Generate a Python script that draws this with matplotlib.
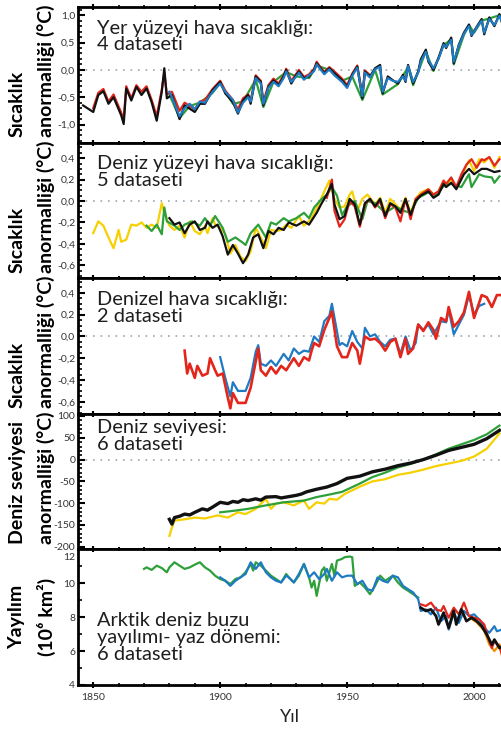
import matplotlib
matplotlib.use("Agg")
import matplotlib.pyplot as plt
from matplotlib.ticker import MultipleLocator
from matplotlib.transforms import ScaledTranslation

plt.rcParams['font.family'] = ['Lato', 'DejaVu Sans']

# --- Panel 1: Yer yüzeyi hava sıcaklığı (4 dataset)
p1_black_yil = [1846, 1850, 1852, 1854, 1856, 1858, 1861, 1862, 1863, 1865, 1867, 1869, 1871, 1873, 1875, 1877,
                1878, 1879, 1881, 1884, 1886, 1890, 1892, 1894, 1897, 1900, 1902, 1905, 1907, 1909, 1911, 1912,
                1914, 1916, 1917, 1919, 1921, 1923, 1925, 1926, 1928, 1930, 1931, 1933, 1935, 1937, 1938, 1939,
                1941, 1943, 1945, 1948, 1950, 1952, 1954, 1956, 1957, 1959, 1961, 1963, 1964, 1966, 1968, 1970,
                1972, 1973, 1974, 1976, 1978, 1979, 1981, 1982, 1984, 1986, 1988, 1989, 1991, 1992, 1994, 1996,
                1998, 1999, 2000, 2002, 2003, 2004, 2006, 2008, 2010, 2011]
p1_black = [-0.65, -0.77, -0.46, -0.39, -0.62, -0.50, -0.83, -0.99, -0.34, -0.56, -0.31, -0.46, -0.34, -0.59, -0.93, -0.40,
            0.03, -0.52, -0.46, -0.90, -0.65, -0.77, -0.62, -0.62, -0.37, -0.22, -0.43, -0.59, -0.80, -0.56, -0.46, -0.62,
            -0.12, -0.22, -0.65, -0.31, -0.19, -0.28, -0.12, 0.00, -0.25, -0.09, -0.03, -0.15, -0.12, 0.00, 0.12, 0.06,
            -0.06, 0.03, -0.06, -0.19, -0.31, -0.09, 0.06, -0.52, -0.03, -0.12, 0.03, 0.09, -0.43, -0.12, -0.19, -0.25,
            -0.09, -0.22, 0.09, -0.25, -0.03, 0.19, 0.37, 0.15, 0.00, 0.22, 0.49, 0.40, 0.59, 0.12, 0.46, 0.68,
            0.83, 0.62, 0.71, 0.86, 0.93, 0.65, 0.96, 0.80, 1.02, 0.86]
p1_red_yil = [1850, 1852, 1854, 1856, 1858, 1861, 1862, 1863, 1865, 1867, 1869, 1871, 1873, 1875, 1877, 1878,
              1879, 1881, 1884, 1886, 1890, 1892, 1894, 1897, 1900, 1902, 1905, 1907, 1909, 1911, 1912, 1914,
              1916, 1917, 1919, 1921, 1923, 1925, 1926, 1928, 1930, 1931, 1933, 1935, 1937, 1938, 1939, 1941,
              1943, 1945, 1948, 1950, 1952, 1954, 1956, 1957, 1959]
p1_red = [-0.70, -0.42, -0.35, -0.58, -0.45, -0.78, -0.90, -0.30, -0.52, -0.28, -0.40, -0.30, -0.55, -0.85, -0.36, -0.05,
          -0.45, -0.40, -0.75, -0.60, -0.72, -0.58, -0.55, -0.35, -0.20, -0.38, -0.55, -0.72, -0.52, -0.45, -0.56, -0.10,
          -0.20, -0.58, -0.28, -0.16, -0.25, -0.10, 0.02, -0.20, -0.07, 0.00, -0.13, -0.08, 0.02, 0.15, 0.08, -0.04,
          0.05, -0.03, -0.16, -0.28, -0.07, 0.08, -0.45, -0.01, -0.10]
p1_green_yil = [1880, 1884, 1888, 1892, 1897, 1900, 1905, 1909, 1914, 1917, 1921, 1926, 1930, 1935, 1938, 1943,
                1948, 1952, 1956, 1961, 1964, 1970, 1974, 1976, 1981, 1984, 1988, 1991, 1992, 1996, 1998, 2000,
                2003, 2006, 2010]
p1_green = [-0.45, -0.88, -0.66, -0.60, -0.42, -0.24, -0.62, -0.58, -0.18, -0.68, -0.22, -0.04, -0.12, -0.15, 0.08, 0.00,
            -0.20, -0.12, -0.55, 0.00, -0.45, -0.26, 0.05, -0.28, 0.34, -0.02, 0.45, 0.56, 0.10, 0.64, 0.82, 0.68,
            0.90, 0.94, 1.00]
p1_blue_yil = [1880, 1881, 1884, 1886, 1888, 1890, 1892, 1894, 1897, 1900, 1902, 1905, 1907, 1909, 1911, 1912,
               1914, 1916, 1917, 1919, 1921, 1923, 1925, 1926, 1928, 1930, 1931, 1933, 1935, 1937, 1938, 1939,
               1941, 1943, 1945, 1948, 1950, 1952, 1954, 1956, 1957, 1959, 1961, 1963, 1964, 1966, 1968, 1970,
               1972, 1973, 1974, 1976, 1978, 1979, 1981, 1982, 1984, 1986, 1988, 1989, 1991, 1992, 1994, 1996,
               1998, 1999, 2000, 2002, 2003, 2004, 2006, 2008, 2010, 2011]
p1_blue = [-0.40, -0.50, -0.85, -0.70, -0.62, -0.72, -0.58, -0.60, -0.40, -0.25, -0.40, -0.55, -0.78, -0.60, -0.50, -0.58,
           -0.15, -0.25, -0.62, -0.33, -0.22, -0.30, -0.15, -0.03, -0.22, -0.12, -0.05, -0.18, -0.10, -0.02, 0.10, 0.04,
           -0.08, 0.01, -0.10, -0.22, -0.33, -0.11, 0.04, -0.48, -0.05, -0.14, 0.01, 0.06, -0.40, -0.15, -0.20, -0.22,
           -0.12, -0.20, 0.07, -0.22, -0.05, 0.15, 0.33, 0.18, 0.03, 0.20, 0.46, 0.42, 0.55, 0.15, 0.44, 0.66,
           0.80, 0.64, 0.70, 0.84, 0.90, 0.68, 0.93, 0.82, 0.99, 0.88]

# --- Panel 2: Deniz yüzeyi hava sıcaklığı (5 dataset)
p2_yellow_yil = [1850, 1852, 1854, 1856, 1858, 1860, 1861, 1863, 1865, 1867, 1869, 1871, 1873, 1875, 1877, 1878,
                 1880, 1882, 1884, 1886, 1888, 1890, 1892, 1894, 1895, 1897, 1898, 1900, 1902, 1904, 1906, 1908,
                 1910, 1912, 1914, 1916, 1918, 1920, 1922, 1924, 1926, 1928, 1931, 1933, 1936, 1939, 1941, 1943,
                 1945, 1947, 1949, 1951, 1952, 1954, 1956, 1958, 1961, 1963, 1965, 1967, 1969, 1971, 1973, 1975,
                 1977, 1979, 1982, 1984, 1986, 1988, 1989, 1991, 1993, 1995, 1997, 1998, 2000, 2002, 2004, 2006,
                 2008, 2010]
p2_yellow = [-0.30, -0.19, -0.23, -0.34, -0.44, -0.27, -0.38, -0.36, -0.22, -0.23, -0.20, -0.25, -0.22, -0.25, -0.02, -0.11,
             -0.23, -0.27, -0.23, -0.34, -0.19, -0.28, -0.31, -0.23, -0.30, -0.16, -0.22, -0.25, -0.31, -0.49, -0.41, -0.52,
             -0.56, -0.47, -0.25, -0.34, -0.44, -0.27, -0.28, -0.27, -0.22, -0.25, -0.14, -0.23, -0.16, -0.02, 0.09, 0.19,
             0.02, -0.06, -0.05, 0.06, 0.09, -0.09, 0.02, 0.06, -0.03, 0.03, -0.11, 0.02, -0.03, -0.08, 0.03, -0.11,
             0.02, 0.08, 0.11, 0.06, 0.09, 0.19, 0.14, 0.20, 0.13, 0.22, 0.33, 0.38, 0.28, 0.39, 0.36, 0.41,
             0.31, 0.41]
p2_green_yil = [1871, 1873, 1875, 1877, 1878, 1879, 1882, 1884, 1886, 1889, 1892, 1894, 1896, 1898, 1901, 1903,
                1906, 1909, 1910, 1912, 1915, 1918, 1920, 1922, 1925, 1927, 1930, 1933, 1935, 1937, 1940, 1942,
                1944, 1946, 1948, 1950, 1953, 1956, 1958, 1961, 1965, 1969, 1972, 1975, 1978, 1982, 1985, 1988,
                1991, 1995, 1998, 1999, 2002, 2004, 2007, 2008, 2010]
p2_green = [-0.23, -0.28, -0.22, -0.31, -0.06, -0.19, -0.23, -0.27, -0.22, -0.19, -0.23, -0.16, -0.23, -0.14, -0.25, -0.38,
            -0.34, -0.39, -0.41, -0.30, -0.22, -0.34, -0.20, -0.22, -0.16, -0.19, -0.16, -0.11, -0.16, -0.06, 0.02, 0.06,
            0.13, 0.05, -0.13, -0.05, 0.00, -0.17, 0.00, -0.02, -0.11, -0.05, -0.09, -0.11, 0.03, 0.08, 0.05, 0.14,
            0.16, 0.13, 0.25, 0.13, 0.25, 0.23, 0.22, 0.17, 0.23]
p2_black_yil = [1880, 1882, 1884, 1886, 1888, 1890, 1892, 1894, 1895, 1897, 1899, 1901, 1903, 1905, 1907, 1909,
                1911, 1913, 1915, 1917, 1919, 1921, 1923, 1925, 1927, 1930, 1933, 1935, 1938, 1940, 1942, 1944,
                1945, 1947, 1949, 1951, 1953, 1955, 1957, 1959, 1961, 1963, 1965, 1967, 1969, 1971, 1973, 1975,
                1977, 1979, 1982, 1984, 1986, 1988, 1989, 1991, 1993, 1996, 1998, 2000, 2003, 2005, 2008, 2010]
p2_black = [-0.16, -0.22, -0.20, -0.30, -0.22, -0.19, -0.27, -0.25, -0.19, -0.25, -0.22, -0.33, -0.50, -0.41, -0.49, -0.58,
            -0.50, -0.34, -0.31, -0.44, -0.28, -0.31, -0.25, -0.27, -0.20, -0.23, -0.19, -0.22, -0.11, -0.02, 0.06, 0.16,
            -0.03, -0.17, -0.14, 0.02, -0.03, -0.22, -0.02, 0.02, -0.05, 0.02, -0.14, -0.02, -0.05, -0.11, 0.02, -0.13,
            0.00, 0.05, 0.09, 0.03, 0.06, 0.16, 0.13, 0.17, 0.11, 0.25, 0.30, 0.25, 0.30, 0.30, 0.27, 0.28]
p2_red_yil = [1942, 1944, 1945, 1947, 1949, 1951, 1953, 1955, 1957, 1959, 1961, 1963, 1965, 1967, 1969, 1971,
              1973, 1975, 1977, 1979, 1982, 1984, 1986, 1988, 1989, 1991, 1993, 1995, 1997, 1999, 2001, 2003,
              2004, 2006, 2008, 2010]
p2_red = [0.03, 0.20, -0.09, -0.24, -0.17, 0.00, -0.05, -0.24, -0.03, 0.02, -0.06, 0.00, -0.16, -0.03, -0.06, -0.19,
          0.02, -0.17, 0.02, 0.06, 0.11, 0.06, 0.09, 0.19, 0.16, 0.22, 0.13, 0.25, 0.34, 0.39, 0.31, 0.39,
          0.38, 0.41, 0.33, 0.39]

# --- Panel 3: Denizel hava sıcaklığı (2 dataset)
p3_red_yil = [1886, 1887, 1888, 1890, 1891, 1893, 1895, 1896, 1898, 1899, 1901, 1903, 1904, 1905, 1907, 1910,
              1912, 1914, 1915, 1916, 1918, 1920, 1922, 1924, 1926, 1929, 1931, 1933, 1935, 1936, 1937, 1939,
              1941, 1943, 1944, 1946, 1948, 1950, 1952, 1954, 1955, 1957, 1959, 1961, 1963, 1965, 1967, 1969,
              1971, 1973, 1974, 1976, 1978, 1980, 1982, 1984, 1985, 1987, 1989, 1990, 1992, 1994, 1996, 1998,
              2000, 2002, 2003, 2005, 2007, 2009, 2011]
p3_red = [-0.13, -0.34, -0.25, -0.38, -0.27, -0.36, -0.34, -0.20, -0.31, -0.36, -0.34, -0.56, -0.66, -0.52, -0.61, -0.61,
          -0.47, -0.23, -0.11, -0.31, -0.36, -0.28, -0.34, -0.27, -0.31, -0.20, -0.27, -0.19, -0.22, -0.13, -0.06, -0.09,
          0.06, 0.17, 0.23, -0.09, -0.19, -0.19, -0.06, -0.13, -0.25, 0.00, -0.03, -0.02, -0.06, -0.13, -0.05, -0.02,
          -0.19, -0.02, -0.16, -0.11, 0.11, 0.05, 0.13, 0.06, -0.02, 0.17, 0.14, 0.27, 0.09, 0.14, 0.22, 0.41,
          0.17, 0.31, 0.38, 0.36, 0.27, 0.38, 0.38]
p3_blue_yil = [1900, 1902, 1904, 1905, 1907, 1910, 1912, 1914, 1915, 1916, 1918, 1920, 1922, 1925, 1927, 1929,
               1931, 1933, 1935, 1937, 1939, 1941, 1943, 1944, 1947, 1948, 1950, 1952, 1954, 1956, 1957, 1959,
               1961, 1963, 1965, 1967, 1969, 1971, 1973, 1975, 1977, 1978, 1980, 1982, 1984, 1987, 1989, 1990,
               1992, 1994, 1996, 1998, 2000, 2002, 2004]
p3_blue = [-0.19, -0.38, -0.55, -0.42, -0.50, -0.50, -0.38, -0.14, -0.08, -0.25, -0.27, -0.22, -0.27, -0.16, -0.22, -0.11,
           -0.16, -0.13, -0.14, 0.00, -0.05, 0.14, 0.19, 0.30, -0.08, -0.06, -0.09, 0.05, -0.05, -0.11, 0.08, 0.00,
           0.02, -0.05, -0.09, -0.03, -0.02, -0.16, 0.00, -0.13, -0.06, 0.11, 0.06, 0.11, 0.02, 0.14, 0.13, 0.25,
           0.02, 0.11, 0.20, 0.38, 0.20, 0.28, 0.30]

# --- Panel 4: Deniz seviyesi (mm)
p4_yellow_yil = [1880, 1881, 1882, 1886, 1890, 1894, 1899, 1903, 1907, 1910, 1914, 1918, 1920, 1922, 1925, 1929,
                 1933, 1935, 1938, 1941, 1943, 1946, 1949, 1955, 1960, 1965, 1970, 1975, 1980, 1985, 1990, 1995,
                 2000, 2005, 2010]
p4_yellow = [-175, -156, -140, -137, -133, -135, -128, -133, -121, -125, -113, -90, -113, -101, -98, -105,
             -94, -113, -98, -101, -90, -92, -79, -62, -50, -45, -35, -30, -23, -15, -9, -3,
             7, 25, 60]
p4_green_yil = [1900, 1906, 1911, 1918, 1925, 1933, 1938, 1944, 1948, 1955, 1960, 1965, 1970, 1975, 1980, 1985,
                1990, 1995, 2000, 2005, 2010]
p4_green = [-121, -117, -113, -105, -98, -94, -86, -79, -74, -55, -40, -30, -18, -10, 0, 12,
            25, 35, 45, 58, 78]
p4_black_yil = [1880, 1881, 1882, 1884, 1886, 1888, 1890, 1893, 1895, 1897, 1900, 1903, 1905, 1907, 1909, 1911,
                1914, 1916, 1918, 1922, 1924, 1926, 1930, 1932, 1934, 1938, 1942, 1946, 1950, 1955, 1960, 1965,
                1970, 1975, 1980, 1985, 1990, 1995, 2000, 2005, 2010]
p4_black = [-137, -148, -133, -130, -125, -127, -121, -113, -116, -109, -98, -101, -96, -98, -92, -94,
            -90, -93, -86, -85, -88, -86, -82, -79, -74, -68, -63, -55, -43, -38, -28, -22,
            -14, -8, 0, 10, 21, 28, 35, 48, 67]

# --- Panel 5: Arktik deniz buzu yayılımı, yaz (10^6 km2)
p5_green_yil = [1870, 1871, 1873, 1875, 1877, 1879, 1880, 1882, 1884, 1886, 1888, 1890, 1892, 1894, 1896, 1898,
                1900, 1902, 1904, 1906, 1908, 1910, 1912, 1913, 1914, 1916, 1918, 1920, 1922, 1924, 1926, 1927,
                1929, 1931, 1933, 1935, 1936, 1937, 1938, 1940, 1941, 1942, 1944, 1945, 1946, 1948, 1949, 1951,
                1952, 1953, 1955, 1957, 1959, 1961, 1963, 1965, 1967, 1968, 1970, 1972, 1974, 1976, 1978]
p5_green = [10.85, 10.94, 10.79, 11.04, 10.90, 10.65, 10.94, 11.24, 11.04, 10.85, 10.94, 11.10, 11.24, 10.94, 10.75, 10.45,
            10.25, 10.15, 9.95, 10.25, 10.35, 10.65, 11.14, 10.75, 11.24, 11.04, 10.75, 10.45, 10.25, 10.05, 10.55, 10.35,
            10.05, 10.45, 11.14, 10.35, 9.75, 10.15, 9.26, 10.75, 10.94, 10.15, 11.14, 10.45, 11.34, 11.44, 11.54, 11.58,
            11.54, 9.85, 10.05, 9.75, 9.36, 9.85, 10.45, 10.15, 10.35, 10.45, 10.05, 9.75, 9.56, 9.36, 9.16]
p5_blue_yil = [1900, 1902, 1904, 1906, 1908, 1910, 1912, 1914, 1916, 1918, 1920, 1922, 1924, 1926, 1927, 1929,
               1931, 1933, 1935, 1937, 1939, 1941, 1942, 1944, 1946, 1948, 1950, 1952, 1954, 1956, 1958, 1960,
               1962, 1964, 1966, 1968, 1970, 1972, 1974, 1976, 1978, 1979, 1981, 1983, 1985, 1987, 1989, 1990,
               1992, 1994, 1996, 1998, 2000, 2002, 2004, 2006, 2008, 2009, 2011]
p5_blue = [10.35, 10.15, 9.85, 10.15, 10.35, 10.55, 11.24, 10.85, 11.24, 10.65, 10.35, 10.15, 10.05, 10.45, 10.35, 10.05,
           10.55, 11.14, 10.35, 10.65, 10.25, 10.55, 10.85, 10.15, 10.65, 10.35, 10.45, 10.45, 9.95, 10.15, 9.65, 9.56,
           10.35, 10.15, 10.05, 10.45, 10.35, 9.85, 9.65, 9.46, 9.06, 8.37, 8.46, 8.17, 8.56, 7.77, 8.07, 7.27,
           8.27, 7.67, 8.37, 8.07, 8.17, 7.87, 7.37, 7.08, 7.47, 7.17, 7.27]
p5_red_yil = [1979, 1981, 1983, 1985, 1987, 1988, 1990, 1992, 1994, 1996, 1998, 2000, 2002, 2004, 2006, 2007,
              2008, 2010, 2011]
p5_red = [8.76, 8.66, 8.86, 8.46, 8.37, 8.66, 7.97, 8.56, 8.17, 8.86, 8.07, 7.97, 7.87, 7.57, 6.58, 6.18,
          6.58, 6.28, 5.79]
p5_orange_yil = [1999, 2001, 2004, 2006, 2008, 2010, 2011]
p5_orange = [7.9, 7.7, 7.2, 6.4, 6.0, 6.4, 5.7]
p5_black_yil = [1979, 1981, 1983, 1985, 1986, 1988, 1990, 1992, 1993, 1995, 1997, 1999, 2001, 2003, 2005, 2007,
                2008, 2010, 2011]
p5_black = [8.56, 8.37, 8.46, 8.07, 7.57, 8.27, 7.37, 8.37, 7.57, 8.46, 7.77, 7.97, 7.77, 7.47, 6.98, 6.38,
            6.68, 6.18, 6.28]

basliklar = ["Yer yüzeyi hava sıcaklığı:\n4 dataseti",
             "Deniz yüzeyi hava sıcaklığı:\n5 dataseti",
             "Denizel hava sıcaklığı:\n2 dataseti",
             "Deniz seviyesi:\n6 dataseti",
             "Arktik deniz buzu\nyayılımı- yaz dönemi:\n6 dataseti"]
ylabels = ["Sıcaklık\nanormalliği (°C)", "Sıcaklık\nanormalliği (°C)", "Sıcaklık\nanormalliği (°C)",
           "Deniz seviyesi\nanormalliği (°C)", "Yayılım\n(10⁶ km²)"]
yticks = [[1.0, 0.5, 0.0, -0.5, -1.0],
          [0.4, 0.2, 0.0, -0.2, -0.4, -0.6],
          [0.4, 0.2, 0.0, -0.2, -0.4, -0.6],
          [100, 50, 0, -50, -100, -150, -200],
          [12, 10, 8, 6, 4]]
ytick_labels = [["1,0", "0,5", "0,0", "-0,5", "-1,0"],
                ["0,4", "0,2", "0,0", "-0,2", "-0,4", "-0,6"],
                ["0,4", "0,2", "0,0", "-0,2", "-0,4", "-0,6"],
                ["100", "50", "0", "-50", "-100", "-150", "-200"],
                ["12", "10", "8", "6", "4"]]
ylims = [(-1.33, 1.15), (-0.72, 0.545), (-0.71, 0.535), (-206, 105), (4, 12)]
minors = [0.1, 0.05, 0.05, 10, 1]
baslik_y = [0.905, 0.905, 0.905, 0.96, 0.535]

KIRMIZI = '#e3261c'
MAVI = '#1f7ac4'
YESIL = '#2ea03a'
SARI = '#f6d000'
TURUNCU = '#f29100'
SIYAH = '#111111'

fig = plt.figure(figsize=(5.02, 7.31), dpi=100)
gs = fig.add_gridspec(5, 1, left=78/502, right=1.0, top=1-7/731, bottom=1-685/731, hspace=0)
axes = [fig.add_subplot(gs[i]) for i in range(5)]

lw = 1.6
ax = axes[0]
ax.plot(p1_green_yil, p1_green, color=YESIL, lw=lw)
ax.plot(p1_red_yil, p1_red, color=KIRMIZI, lw=lw)
ax.plot(p1_black_yil, p1_black, color=SIYAH, lw=lw)
ax.plot(p1_blue_yil, p1_blue, color=MAVI, lw=lw)

ax = axes[1]
ax.plot(p2_yellow_yil, p2_yellow, color=SARI, lw=lw)
ax.plot(p2_green_yil, p2_green, color=YESIL, lw=lw)
ax.plot(p2_red_yil, p2_red, color=KIRMIZI, lw=lw)
ax.plot(p2_black_yil, p2_black, color=SIYAH, lw=lw)

ax = axes[2]
ax.plot(p3_blue_yil, p3_blue, color=MAVI, lw=lw)
ax.plot(p3_red_yil, p3_red, color=KIRMIZI, lw=lw + 0.3)

ax = axes[3]
ax.plot(p4_yellow_yil, p4_yellow, color=SARI, lw=lw)
ax.plot(p4_green_yil, p4_green, color=YESIL, lw=lw)
ax.plot(p4_black_yil, p4_black, color=SIYAH, lw=2.4)

ax = axes[4]
ax.plot(p5_green_yil, p5_green, color=YESIL, lw=lw)
ax.plot(p5_blue_yil, p5_blue, color=MAVI, lw=lw)
ax.plot(p5_orange_yil, p5_orange, color=TURUNCU, lw=lw)
ax.plot(p5_red_yil, p5_red, color=KIRMIZI, lw=lw)
ax.plot(p5_black_yil, p5_black, color=SIYAH, lw=lw + 0.4)

for i, ax in enumerate(axes):
    ax.set_xlim(1844, 2011)
    ax.set_ylim(*ylims[i])
    ax.set_yticks(yticks[i], ytick_labels[i])
    ax.yaxis.set_minor_locator(MultipleLocator(minors[i]))
    ax.set_xticks([1850, 1900, 1950, 2000])
    ax.xaxis.set_minor_locator(MultipleLocator(10))
    ax.tick_params(axis='y', which='major', direction='in', length=5, width=1.5,
                   labelsize=7.5, labelcolor='#333333', pad=2)
    ax.tick_params(axis='y', which='minor', direction='in', length=3, width=1.2)
    ax.tick_params(axis='x', which='both', direction='inout', top=True, bottom=True,
                   length=4, width=1.5, labelsize=7.5, labelcolor='#333333')
    ax.tick_params(axis='x', which='minor', length=3, width=1.2)
    for s in ['left', 'top', 'bottom']:
        ax.spines[s].set_linewidth(2)
    ax.spines['right'].set_visible(False)
    if i < 4:
        ax.axhline(0, color='#9aa6b0', lw=1.2, ls=(0, (1, 3.5)), zorder=0)
        ax.tick_params(axis='x', labelbottom=False)
    # veri seti açıklaması
    ax.text(0.045, baslik_y[i], basliklar[i], transform=ax.transAxes, fontsize=14.4,
            color='#1e1e1e', va='top', ha='left', linespacing=0.97)
    # eksen etiketi
    if i < 4:
        ax.text(-0.108, 0.04, ylabels[i], transform=ax.transAxes, rotation=90, fontsize=14,
                fontweight='bold', ha='center', va='bottom', multialignment='left', linespacing=1.75)
    else:
        ax.text(-0.108, 0.5, ylabels[i], transform=ax.transAxes, rotation=90, fontsize=14,
                fontweight='bold', ha='center', va='center', multialignment='center', linespacing=1.75)

# üst etiket (12) sınırın biraz altında, referanstaki gibi
lab12 = axes[4].yaxis.get_major_ticks()[0].label1
lab12.set_transform(lab12.get_transform() + ScaledTranslation(0, -7/100, fig.dpi_scale_trans))

fig.text(290/502, 1-717/731, "Yıl", ha='center', va='center', fontsize=13, color='#222222')

plt.savefig("out.png", dpi=100)
